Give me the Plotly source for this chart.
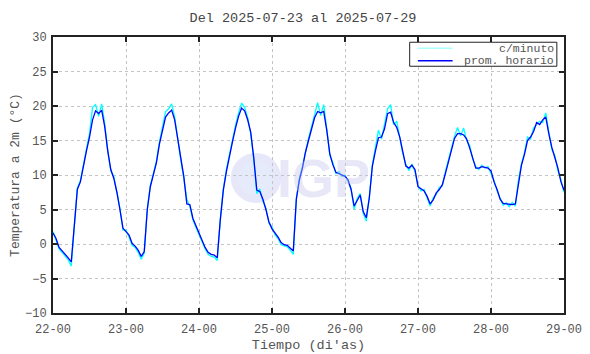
import plotly.graph_objects as go

# tick labels (days, hour 00)
tick_hours = [0, 24, 48, 72, 96, 120, 144, 168]
tick_labels = ["22-00", "23-00", "24-00", "25-00", "26-00", "27-00", "28-00", "29-00"]
legend_names = ["c/minuto", "prom. horario"]

# hourly mean temperature (°C), one value per hour from 22-00 to 29-00
prom_horario = [
    1.6, 0.8, -0.5, -1.0, -1.4, -2.0, -2.6, 3.0, 7.9, 9.0, 11.5, 13.5, 15.5, 18.0, 19.3, 18.9, 19.4, 17.0, 13.5, 10.8, 9.5, 7.5, 5.0, 2.3,
    1.8, 1.3, 0.1, -0.3, -0.9, -1.8, -1.1, 5.0, 8.3, 10.0, 11.8, 14.5, 16.5, 18.4, 19.0, 19.4, 18.0, 15.3, 12.0, 9.8, 5.8, 5.7, 3.7, 2.6,
    1.6, 0.4, -0.5, -1.2, -1.5, -1.6, -2.0, 3.5, 7.8, 10.5, 12.8, 14.8, 16.8, 18.5, 19.7, 19.3, 18.0, 16.2, 12.5, 7.8, 7.6, 6.5, 5.0, 3.2,
    2.2, 1.6, 1.0, 0.2, -0.1, -0.2, -0.6, -1.0, 6.5, 9.3, 11.0, 13.3, 15.0, 16.7, 18.3, 19.2, 19.0, 19.2, 16.5, 13.1, 11.5, 10.4, 10.2, 10.0,
    9.8, 9.3, 7.9, 5.5, 6.3, 7.1, 4.7, 3.8, 6.7, 11.3, 13.5, 15.4, 15.5, 16.7, 18.9, 19.1, 17.6, 16.9, 15.5, 13.3, 11.3, 11.0, 11.4, 10.8,
    8.3, 8.0, 7.7, 6.9, 5.8, 6.4, 7.4, 7.9, 8.6, 10.2, 12.0, 13.8, 15.3, 16.0, 16.0, 15.8, 15.2, 13.9, 12.5, 11.0, 11.0, 11.2, 11.1, 11.0,
    10.6, 9.0, 7.9, 6.5, 5.9, 5.8, 5.7, 5.7, 5.8, 9.0, 11.4, 13.0, 15.0, 15.5, 16.3, 17.6, 17.3, 18.0, 18.4, 16.0, 14.0, 12.5, 11.0, 9.0,
    7.8,
]

# per-minute readings (sampled), showing the spikes around peaks and troughs
c_minuto = [
    1.8, 0.6, -0.7, -1.2, -1.8, -2.3, -3.2, 3.0, 8.1, 9.2, 11.7, 13.8, 16.0, 19.8, 20.2, 18.5, 20.3, 17.5, 13.5, 10.6, 9.8, 7.3, 5.2, 2.0,
    2.0, 1.0, -0.2, -0.5, -1.2, -2.2, -1.3, 5.0, 8.5, 10.2, 12.0, 14.8, 17.0, 19.2, 19.6, 20.3, 18.4, 15.0, 12.2, 9.5, 6.5, 5.4, 3.5, 2.4,
    1.4, 0.2, -0.7, -1.5, -1.8, -1.9, -2.4, 3.5, 8.0, 10.8, 13.0, 15.1, 17.2, 19.0, 20.4, 19.8, 18.3, 16.0, 12.3, 7.3, 8.0, 6.2, 5.2, 3.0,
    2.5, 1.3, 0.8, -0.1, -0.3, -0.4, -0.9, -1.5, 6.5, 9.5, 11.2, 13.5, 15.3, 17.0, 18.8, 20.5, 18.6, 20.2, 16.7, 12.8, 11.8, 10.2, 10.5, 9.8,
    10.0, 9.0, 8.1, 5.0, 6.6, 7.3, 4.4, 3.3, 6.9, 11.5, 14.0, 16.5, 15.2, 17.5, 19.6, 20.2, 17.3, 17.8, 15.3, 13.1, 11.6, 10.6, 11.6, 10.5,
    8.5, 7.7, 7.9, 6.6, 5.5, 6.7, 7.2, 8.2, 8.4, 10.5, 12.3, 14.1, 15.6, 16.9, 15.7, 16.8, 15.0, 14.3, 12.3, 11.2, 10.8, 11.4, 11.0, 11.2,
    10.3, 9.2, 7.7, 6.7, 5.6, 6.0, 5.4, 6.0, 5.5, 9.2, 11.6, 13.2, 15.5, 15.2, 16.8, 17.3, 17.8, 17.6, 19.0, 16.3, 13.7, 12.8, 10.6, 9.3,
    7.5,
]

hours = list(range(len(prom_horario)))
mono = "Liberation Mono, Courier New, monospace"
CYAN = "#00ffff"
BLUE = "#0000ff"

fig = go.Figure()
fig.add_trace(go.Scatter(x=hours, y=c_minuto, mode="lines",
                         line=dict(color=CYAN, width=1.3), name=legend_names[0]))
fig.add_trace(go.Scatter(x=hours, y=prom_horario, mode="lines",
                         line=dict(color=BLUE, width=1.3), name=legend_names[1]))

# IGP watermark
fig.add_shape(type="circle", xref="paper", yref="paper",
              x0=0.348, x1=0.446, y0=0.399, y1=0.580,
              fillcolor="rgba(205,208,242,0.5)", line=dict(width=0), layer="below")
fig.add_shape(type="circle", xref="paper", yref="paper",
              x0=0.362, x1=0.432, y0=0.425, y1=0.553,
              fillcolor="rgba(228,238,252,0.6)", line=dict(width=0), layer="below")
fig.add_annotation(text="<b>IGP</b>", xref="paper", yref="paper", x=0.53, y=0.49,
                   showarrow=False, font=dict(family="Arial, Liberation Sans", size=54,
                                              color="rgba(195,195,238,0.4)"))

# legend box (drawn as shapes + text to match the compact original)
fig.add_shape(type="rect", xref="paper", yref="paper",
              x0=0.698, x1=0.986, y0=0.894, y1=0.981,
              fillcolor="white", line=dict(color="#222", width=1), layer="above")
for name, col, yy in [(legend_names[0], "#aaffff", 0.959), (legend_names[1], BLUE, 0.914)]:
    fig.add_shape(type="line", xref="paper", yref="paper",
                  x0=0.714, x1=0.782, y0=yy, y1=yy,
                  line=dict(color=col, width=1.5), layer="above")
    fig.add_annotation(text=name, xref="paper", yref="paper", x=0.984, y=yy,
                       xanchor="right", yanchor="middle", showarrow=False,
                       font=dict(family=mono, size=11.5, color="#555"))

fig.update_layout(
    width=590, height=354,
    margin=dict(l=45, r=34, t=29, b=49, autoexpand=False),
    paper_bgcolor="white", plot_bgcolor="white",
    title=dict(text="Del 2025-07-23 al 2025-07-29", x=0.5, xanchor="center",
               y=0.975, yanchor="middle", automargin=False,
               font=dict(family=mono, size=13.5, color="#444")),
    font=dict(family=mono, size=12, color="#555"),
    showlegend=False,
    xaxis=dict(range=[0, 168], tickvals=tick_hours, ticktext=tick_labels,
               automargin=False, ticklabelstandoff=4,
               showgrid=True, gridcolor="#c4c4c4", griddash="dot", gridwidth=1,
               showline=True, linecolor="#222", linewidth=2, mirror="allticks",
               ticks="inside", ticklen=5, tickcolor="#222", tickwidth=1.5,
               zeroline=False,
               title=dict(text="Tiempo (di'as)", standoff=3,
                          font=dict(family=mono, size=13.5, color="#555"))),
    yaxis=dict(range=[-10, 30], tickvals=[-10, -5, 0, 5, 10, 15, 20, 25, 30],
               automargin=False, ticklabelstandoff=2,
               showgrid=True, gridcolor="#c4c4c4", griddash="dot", gridwidth=1,
               showline=True, linecolor="#222", linewidth=2, mirror="allticks",
               ticks="inside", ticklen=5, tickcolor="#222", tickwidth=1.5,
               zeroline=False,
               title=dict(text="Temperatura a 2m (°C)", standoff=6,
                          font=dict(family=mono, size=13, color="#555"))),
)

fig.write_html("out.html")
